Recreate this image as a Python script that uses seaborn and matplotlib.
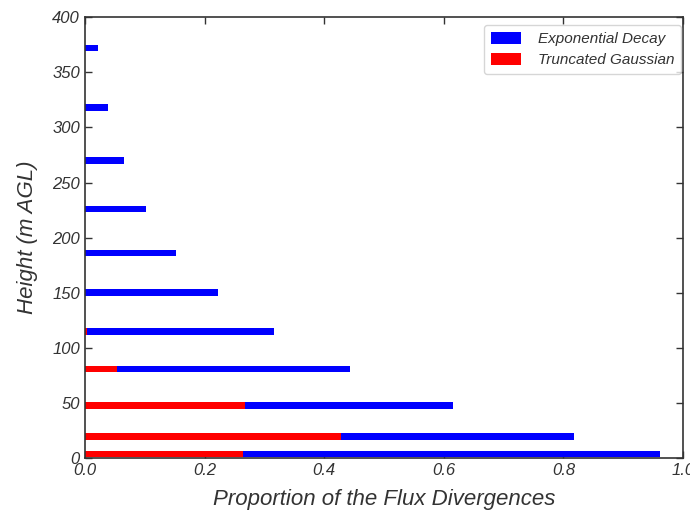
import matplotlib
matplotlib.use("Agg")
import matplotlib.pyplot as plt
import seaborn as sns
import pandas as pd

# Model levels (m AGL) and share of the flux divergence at each level
heights = [4, 20, 48, 81, 115, 150, 186, 226, 270, 318, 372]
exp_decay = [0.961, 0.817, 0.615, 0.443, 0.316, 0.223, 0.153, 0.102, 0.065, 0.039, 0.022]
trunc_gauss = [0.265, 0.428, 0.268, 0.053, 0.003, 0.0, 0.0, 0.0, 0.0, 0.0, 0.0]

x_ticks = [0.0, 0.2, 0.4, 0.6, 0.8, 1.0]
y_ticks = [0, 50, 100, 150, 200, 250, 300, 350, 400]

df_exp = pd.DataFrame({"height": heights, "prop": exp_decay})
df_tg = pd.DataFrame({"height": heights, "prop": trunc_gauss})

sns.set_style("ticks")
plt.rcParams["font.family"] = ["Liberation Sans", "DejaVu Sans"]
text_color = "#333333"

fig = plt.figure(figsize=(6.9, 5.15), dpi=100)
ax = fig.add_axes([0.123, 0.110, 0.867, 0.857])

sns.barplot(data=df_exp, x="prop", y="height", orient="h", native_scale=True,
            width=0.38, color="#0000ff", saturation=1, label="Exponential Decay",
            linewidth=0, ax=ax, errorbar=None)
sns.barplot(data=df_tg, x="prop", y="height", orient="h", native_scale=True,
            width=0.38, color="#ff0000", saturation=1, label="Truncated Gaussian",
            linewidth=0, ax=ax, errorbar=None)

ax.set_xlim(0, 1.0)
ax.set_ylim(0, 400)
ax.set_xticks(x_ticks)
ax.set_yticks(y_ticks)
ax.set_xticklabels([f"{t:.1f}" for t in x_ticks], fontstyle="italic", fontsize=12, color=text_color)
ax.set_yticklabels([str(t) for t in y_ticks], fontstyle="italic", fontsize=12, color=text_color)
ax.tick_params(direction="in", length=5, width=1, top=True, right=True, colors=text_color,
               labelcolor=text_color)

for s in ax.spines.values():
    s.set_visible(True)
    s.set_color(text_color)
    s.set_linewidth(1.2)

ax.set_xlabel("Proportion of the Flux Divergences", fontsize=16, fontstyle="italic",
              color=text_color, labelpad=8)
ax.set_ylabel("Height (m AGL)", fontsize=16, fontstyle="italic", color=text_color,
              labelpad=10)

leg = ax.legend(loc="upper right", bbox_to_anchor=(0.997, 0.982), borderaxespad=0,
                prop={"style": "italic", "size": 11},
                frameon=True, fancybox=True, edgecolor="#cccccc",
                handlelength=2.0, handleheight=0.8, handletextpad=1.1,
                borderpad=0.45, labelspacing=0.45)
for t in leg.get_texts():
    t.set_color(text_color)

fig.savefig("out.png", dpi=100)
